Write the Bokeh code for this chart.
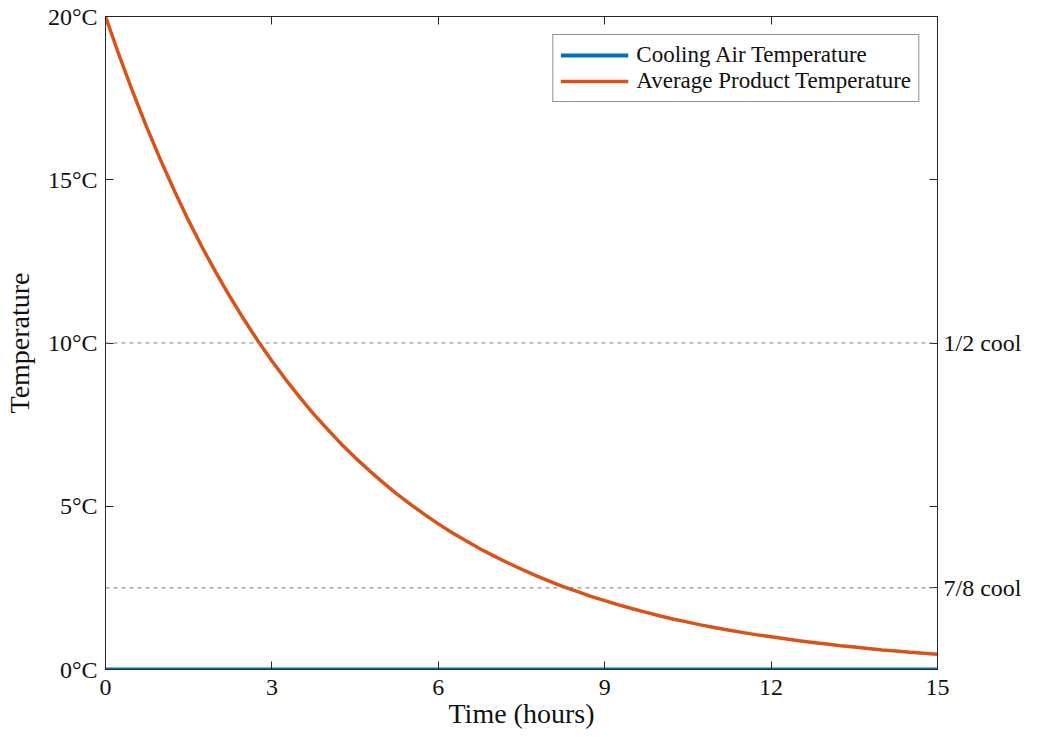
from bokeh.plotting import figure
from bokeh.models import (LinearAxis, FixedTicker, CustomJSTickFormatter, Span,
                          Range1d, Legend, LegendItem)
from bokeh.embed import file_html
from bokeh.resources import INLINE

# ---- data ----
time_hours = [0, 0.25, 0.5, 0.75, 1, 1.25, 1.5, 1.75, 2, 2.25, 2.5, 2.75, 3, 3.25,
              3.5, 3.75, 4, 4.25, 4.5, 4.75, 5, 5.25, 5.5, 5.75, 6, 6.25, 6.5, 6.75,
              7, 7.25, 7.5, 7.75, 8, 8.25, 8.5, 8.75, 9, 9.25, 9.5, 9.75, 10, 10.25,
              10.5, 10.75, 11, 11.25, 11.5, 11.75, 12, 12.25, 12.5, 12.75, 13, 13.25,
              13.5, 13.75, 14, 14.25, 14.5, 14.75, 15]
product_temp = [20.00, 18.79, 17.65, 16.58, 15.58, 14.63, 13.74, 12.91, 12.13, 11.40,
                10.71, 10.06, 9.45, 8.88, 8.34, 7.83, 7.36, 6.91, 6.49, 6.10,
                5.73, 5.38, 5.06, 4.75, 4.46, 4.19, 3.94, 3.70, 3.48, 3.27,
                3.07, 2.88, 2.71, 2.54, 2.39, 2.24, 2.11, 1.98, 1.86, 1.75,
                1.64, 1.54, 1.45, 1.36, 1.28, 1.20, 1.13, 1.06, 1.00, 0.94,
                0.88, 0.83, 0.78, 0.73, 0.69, 0.64, 0.60, 0.57, 0.53, 0.50, 0.47]
air_time = [0, 15]
air_temp = [0, 0]
x_ticks = [0, 3, 6, 9, 12, 15]
y_ticks = [0, 5, 10, 15, 20]
cool_levels = [10, 2.5]
cool_labels = ["1/2 cool", "7/8 cool"]
full_cool_level = 0

FONT = "Liberation Serif"
AX = "#262626"
TXT = "#111111"
BLUE = "#0072BD"
ORANGE = "#D95319"

p = figure(frame_width=832, frame_height=653, output_backend="svg",
           toolbar_location=None, x_range=Range1d(0, 15), y_range=Range1d(0, 20),
           min_border_left=105, min_border_right=86, min_border_top=16,
           min_border_bottom=62, background_fill_color="white",
           border_fill_color="white")
p.outline_line_color = AX
p.xgrid.visible = False
p.ygrid.visible = False

def style_axis(ax, labels=True):
    ax.axis_line_color = AX
    ax.major_tick_line_color = AX
    ax.major_tick_in = 8
    ax.major_tick_out = 0
    ax.minor_tick_line_color = None
    ax.major_label_text_font = FONT
    ax.major_label_text_font_size = "24px"
    ax.major_label_text_color = TXT if labels else None
    ax.axis_label_text_font = FONT
    ax.axis_label_text_font_size = "28px"
    ax.axis_label_text_font_style = "normal"
    ax.axis_label_text_color = TXT

# bottom axis
xa = p.xaxis[0]
xa.ticker = FixedTicker(ticks=x_ticks)
xa.axis_label = "Time (hours)"
style_axis(xa)
xa.major_label_standoff = 10
xa.axis_label_standoff = 0

# left axis
ya = p.yaxis[0]
ya.ticker = FixedTicker(ticks=y_ticks)
ya.formatter = CustomJSTickFormatter(code="return tick + '\u00b0C';")
ya.axis_label = "Temperature"
style_axis(ya)
ya.major_label_standoff = 8
ya.axis_label_standoff = 10

# top axis (ticks only)
top = LinearAxis(ticker=FixedTicker(ticks=x_ticks))
style_axis(top, labels=False)
top.major_label_standoff = 0
p.add_layout(top, "above")

# right axis: ticks only (inner)
right_ticks = sorted(set(y_ticks + cool_levels))
right = LinearAxis(ticker=FixedTicker(ticks=right_ticks))
style_axis(right, labels=False)
right.major_label_standoff = 0
p.add_layout(right, "right")

# right axis: cooling-stage labels (outer, no line/ticks)
rcode = ("const lv = %s; const lb = %s; const i = lv.indexOf(tick);"
         " return i >= 0 ? lb[i] : '';") % (cool_levels, cool_labels)
right_lbl = LinearAxis(ticker=FixedTicker(ticks=cool_levels),
                       formatter=CustomJSTickFormatter(code=rcode))
style_axis(right_lbl)
right_lbl.axis_line_color = None
right_lbl.major_tick_line_color = None
right_lbl.major_tick_in = 0
right_lbl.major_label_standoff = 6
p.add_layout(right_lbl, "right")

# reference dashed lines
for lv in cool_levels:
    p.add_layout(Span(location=lv, dimension="width", line_color="#808080",
                      line_dash="4 4", line_width=1))

r_air = p.line(air_time, air_temp, line_color=BLUE, line_width=4)
r_prod = p.line(time_hours, product_temp, line_color=ORANGE, line_width=3.5,
                line_join="round")
p.add_layout(Span(location=full_cool_level, dimension="width", line_color="#333333",
                  line_dash="4 4", line_width=1))

legend = Legend(items=[LegendItem(label="Cooling Air Temperature", renderers=[r_air]),
                       LegendItem(label="Average Product Temperature", renderers=[r_prod])],
                location="top_right")
legend.margin = 18
legend.padding = 7
legend.spacing = 0
legend.glyph_width = 68
legend.glyph_height = 20
legend.label_height = 20
legend.label_standoff = 8
legend.label_text_font = FONT
legend.label_text_font_size = "23px"
legend.label_text_color = TXT
legend.border_line_color = AX
legend.border_line_width = 1
legend.background_fill_color = "white"
legend.background_fill_alpha = 1
p.add_layout(legend, "center")

open("out.html", "w").write(file_html(p, INLINE))
